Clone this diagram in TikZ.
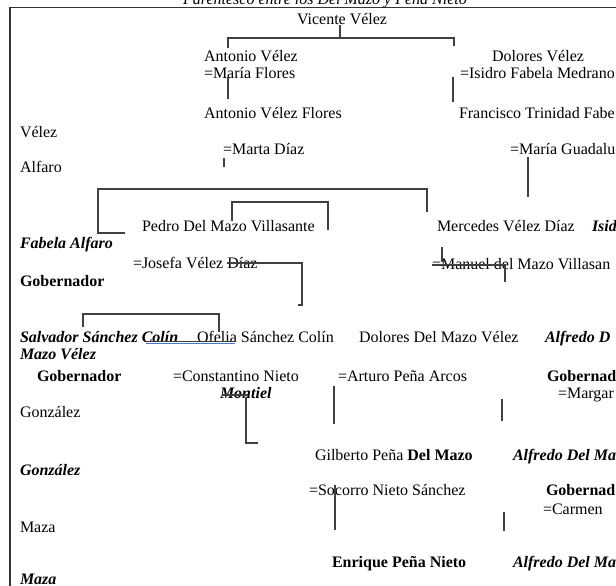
\documentclass[tikz,border=0pt]{standalone}
\usepackage{fontspec}
\setmainfont{Liberation Serif}
\begin{document}
\begin{tikzpicture}[x=1pt,y=-1pt,
  txt/.style={anchor=base west,inner sep=0pt,outer sep=0pt,font=\fontsize{16}{18}\selectfont,text=black},
  txtbi/.style={txt,font=\fontsize{16}{18}\selectfont\bfseries\itshape},
  txtbo/.style={txt,font=\fontsize{16}{18}\selectfont\bfseries},
  txtit/.style={txt,font=\fontsize{16}{18}\selectfont\itshape},
  ln/.style={draw=black!75,line width=1.2pt},
  frame/.style={draw=black!80,line width=1.6pt},
  spell/.style={draw={rgb,255:red,70;green,120;blue,220},line width=1.1pt}
]
\useasboundingbox (0,0) rectangle (616,586);
\clip (0,0) rectangle (616,586);
\fill[white] (0,0) rectangle (616,586);

% frame
\draw[frame] (10,586) -- (10,7.5) -- (620,7.5);

% title (cut off at the top, as in the reference)
\node[txtit,anchor=base] (title) at (325,5) {Parentesco entre los Del Mazo y Peña Nieto};

% texts
\node[txt] (vicente) at (297,25) {Vicente Vélez};
\node[txt] (antonio) at (204,62) {Antonio Vélez};
\node[txt] (mflores) at (204,79) {=María Flores};
\node[txt] (dolores) at (492,62) {Dolores Vélez};
\node[txt] (isidrofm) at (460,79) {=Isidro Fabela Medrano};
\node[txt] (antoniovf) at (204,118) {Antonio Vélez Flores};
\node[txt] (francisco) at (459,118) {Francisco Trinidad Fabe};
\node[txt] (velezw) at (20,137) {Vélez};
\node[txt] (marta) at (223,154) {=Marta Díaz};
\node[txt] (guadalupe) at (510,154) {=María Guadalu};
\node[txt] (alfarow) at (20,172) {Alfaro};
\node[txt] (pedro) at (142,231) {Pedro Del Mazo Villasante};
\node[txt] (mercedes) at (437,231) {Mercedes Vélez Díaz};
\node[txtbi] (isidro) at (592,231) {Isid};
\node[txtbi] (fabelaalf) at (20,248) {Fabela Alfaro};
\node[txt] (josefa) at (133,268) {=Josefa Vélez Díaz};
\node[txt] (manuel) at (432,269) {=Manuel del Mazo Villasan};
\node[txtbo] (gob1) at (20,286) {Gobernador};
\node[txtbi] (salvador) at (20,342) {Salvador Sánchez Colín};
\node[txt] (ofelia) at (197,342) {Ofelia Sánchez Colín};
\node[txt] (doloresdm) at (359,342) {Dolores Del Mazo Vélez};
\node[txtbi] (alfredo1) at (545,342) {Alfredo D};
\node[txtbi] (mazovelez) at (20,359) {Mazo Vélez};
\node[txtbo] (gob2) at (37,381) {Gobernador};
\node[txt] (constantino) at (173,381) {=Constantino Nieto};
\node[txt] (arturo) at (338,381) {=Arturo Peña Arcos};
\node[txtbo] (gob3) at (547,381) {Gobernad};
\node[txtbi] (montiel) at (220,398) {Montiel};
\node[txt] (margarita) at (558,398) {=Margar};
\node[txt] (gonzalezw) at (20,417) {González};
\node[txt] (gilberto) at (315,460) {Gilberto Peña \textbf{Del Mazo}};
\node[txtbi] (alfredo2) at (513,460) {Alfredo Del Ma};
\node[txtbi] (gonzalezb) at (20,475) {González};
\node[txt] (socorro) at (309,495) {=Socorro Nieto Sánchez};
\node[txtbo] (gob4) at (546,495) {Gobernad};
\node[txt] (carmen) at (543,514) {=Carmen};
\node[txt] (mazaw) at (20,532) {Maza};
\node[txtbo] (enrique) at (332,567) {Enrique Peña Nieto};
\node[txtbi] (alfredo3) at (513,567) {Alfredo Del Ma};
\node[txtbi] (mazab) at (20,584) {Maza};

% connectors
\draw[ln] (340,25) -- (340,38);
\draw[ln] (228,48) -- (228,38) -- (454,38) -- (454,46);
\draw[ln] (228,77) -- (228,99);
\draw[ln] (453,77) -- (453,102);
\draw[ln] (224,158) -- (224,167);
\draw[ln] (125,233) -- (98,233) -- (98,189) -- (427,189) -- (427,212);
\draw[ln] (232,221) -- (232,202) -- (328,202) -- (328,230);
\draw[ln] (528,157) -- (528,197);
\draw[ln] (227,263) -- (302,263) -- (302,305) -- (298,305);
\draw[ln] (442,247) -- (442,262);
\draw[ln] (432,265) -- (505,265) -- (505,282);
\draw[ln] (83,327) -- (83,314) -- (219,314) -- (219,332);
\draw[ln] (146,341.5) -- (235,341.5);
\draw[spell] (146,343.5) -- (235,343.5);
\draw[ln] (222,395) -- (248,395);
\draw[ln] (246,397) -- (246,443) -- (258,443);
\draw[ln] (334,386) -- (334,424);
\draw[ln] (502,399) -- (502,421);
\draw[ln] (335,485) -- (335,530);
\draw[ln] (504,512) -- (504,531);
\end{tikzpicture}
\end{document}
